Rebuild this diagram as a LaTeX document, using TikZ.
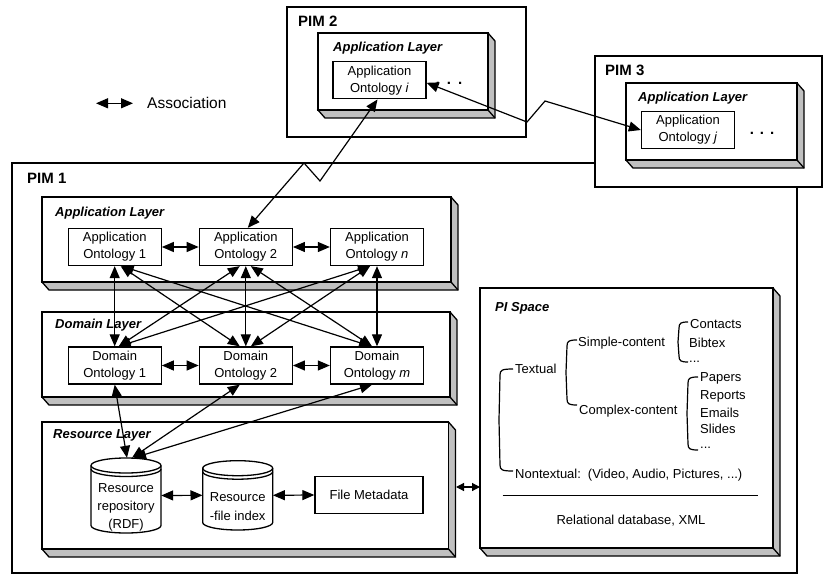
\documentclass[tikz,border=0pt]{standalone}
\usepackage{fontspec}
\setmainfont{Liberation Sans}
\usetikzlibrary{arrows.meta,calc}
\definecolor{sidegray}{RGB}{192,192,192}

\tikzset{
  boxline/.style={line width=1.3pt, draw=black, line join=miter},
  txt/.style={font=\fontsize{13}{17}\selectfont, inner sep=0pt},
  ptxt/.style={font=\fontsize{13}{17}\selectfont, inner sep=0pt, anchor=base west},
  onto/.style={boxline, fill=white, minimum width=93pt, minimum height=37pt, align=center, inner sep=1pt, font=\fontsize{13}{17}\selectfont},
  layerlbl/.style={font=\fontsize{13}{16}\selectfont\bfseries\itshape, anchor=base west, inner sep=0pt},
  pimlbl/.style={font=\fontsize{15}{18}\selectfont\bfseries, anchor=base west, inner sep=0pt},
  cylnode/.style={inner sep=0pt, draw=none},
  assoc/.style={line width=1.2pt, {Triangle[length=12pt,width=10pt]}-{Triangle[length=12pt,width=10pt]}},
  shortassoc/.style={line width=1.2pt, {Triangle[length=8pt,width=8pt]}-{Triangle[length=8pt,width=8pt]}},
  bracepath/.style={line width=1.2pt},
}

% 3D box: x0 y0 x1 y1 (front face)
\newcommand\tdbox[4]{%
  \draw[boxline, fill=sidegray] (#3,#2) -- ({#3+7},{#2+8}) -- ({#3+7},{#4+8}) -- ({#1+7},{#4+8}) -- (#1,#4) -- cycle;
  \draw[boxline] (#3,#4) -- ({#3+7},{#4+8});
  \draw[boxline, fill=white] (#1,#2) rectangle (#3,#4);
}
% cylinder: cx top bottom
\newcommand\dbcyl[3]{%
  \draw[boxline, fill=white] ({#1-35},{#2+7.5}) -- ({#1-35},{#3-7.5})
     arc[start angle=180,end angle=0,x radius=35,y radius=7.5]
     -- ({#1+35},{#2+7.5})
     arc[start angle=0,end angle=-180,x radius=35,y radius=7.5] -- cycle;
  \draw[boxline] ({#1-35},{#2+7.5}) arc[start angle=180,end angle=0,x radius=35,y radius=7.5];
  \draw[boxline] ({#1-35},{#2+11}) arc[start angle=180,end angle=0,x radius=35,y radius=7.5];
}
% brace: vertical x, tick end x, ytop, ybottom
\newcommand\pibrace[4]{%
  \draw[bracepath] (#2,#3) .. controls ({#1+2},#3) and (#1,{#3+1}) .. (#1,{#3+6})
     -- ({#1-1},{(#3+#4)/2}) -- (#1,{#4-6})
     .. controls (#1,{#4-1}) and ({#1+2},#4) .. (#2,#4);
}

\begin{document}
\begin{tikzpicture}[x=1pt,y=-1pt]
\useasboundingbox (0,0) rectangle (825,575);

% ---------- PIM 1 ----------
\draw[boxline, fill=white] (12,163) rectangle (797,573);
\node[pimlbl] (pim1) at (27,184) {PIM 1};

% ---------- PIM 3 ----------
\draw[boxline, fill=white] (595,56) rectangle (822,187);
\node[pimlbl] (pim3) at (605,76) {PIM 3};
\tdbox{626}{83}{797}{160}
\node[layerlbl] (al3) at (638,102) {Application Layer};
\node[onto] (aj) at (688,130) {Application\\Ontology \textit{j}};
\node[txt, font=\fontsize{15}{17}\selectfont\bfseries] (dotsj) at (762,133) {.\hspace{6pt}.\hspace{6pt}.};

% ---------- PIM 2 ----------
\draw[boxline, fill=white] (287,7) rectangle (526,137);
\node[pimlbl] (pim2) at (298,27) {PIM 2};
\tdbox{318}{33}{488}{110}
\node[layerlbl] (al2) at (333,52) {Application Layer};
\node[onto] (ai) at (379.5,80.3) {Application\\Ontology \textit{i}};
\node[txt, font=\fontsize{15}{17}\selectfont\bfseries] (dotsi) at (449,83) {.\hspace{7pt}.\hspace{7pt}.};

% ---------- Legend ----------
\coordinate (lg1) at (96,103.3);
\coordinate (lg2) at (133,103.3);
\draw[assoc] (lg1) -- (lg2);
\node[txt, anchor=west, font=\fontsize{15.5}{18}\selectfont] (legend) at (147,103.3) {Association};

% ---------- Layers of PIM 1 ----------
\tdbox{42}{197}{451}{282}
\node[layerlbl] (al1) at (55,216) {Application Layer};
\tdbox{42}{312}{450}{397}
\node[layerlbl] (dl) at (55,328.5) {Domain Layer};
\tdbox{42}{422}{448.5}{549}
\node[layerlbl] (rl) at (53,438.5) {Resource Layer};

\node[onto] (a1) at (114.7,247) {Application\\Ontology 1};
\node[onto] (a2) at (245.8,247) {Application\\Ontology 2};
\node[onto] (an) at (377,247) {Application\\Ontology \textit{n}};

\node[onto] (d1) at (114.7,365.5) {Domain\\Ontology 1};
\node[onto] (d2) at (245.8,365.5) {Domain\\Ontology 2};
\node[onto] (dm) at (377,365.5) {Domain\\Ontology \textit{m}};

% cylinders
\dbcyl{126}{458}{533}
\node[cylnode, minimum width=70pt, minimum height=75pt] (repo) at (126,495.5) {};
\node[txt, align=center, font=\fontsize{13}{18}\selectfont] (repotext) at (126,507) {Resource\\repository\\(RDF)};
\dbcyl{237.7}{460.7}{530}
\node[cylnode, minimum width=70pt, minimum height=69pt] (idx) at (237.7,495.3) {};
\node[txt, align=center, font=\fontsize{13}{19}\selectfont] (idxtext) at (237.7,506.5) {Resource\\-file index};
\node[onto, minimum width=108pt] (fm) at (369,495) {File Metadata};

% ---------- PI Space ----------
\tdbox{480}{288}{773}{548}
\node[layerlbl] (pil) at (495,311) {PI Space};
\node[ptxt] (contacts) at (690,328) {Contacts};
\node[ptxt] (bibtex) at (689,347) {Bibtex};
\node[ptxt] (dots1) at (689,362) {...};
\node[ptxt] (simple) at (578,346) {Simple-content};
\node[ptxt] (textual) at (515,373) {Textual};
\node[ptxt] (papers) at (700,381) {Papers};
\node[ptxt] (reports) at (700,399.5) {Reports};
\node[ptxt] (emails) at (700,417) {Emails};
\node[ptxt] (slides) at (700,433.5) {Slides};
\node[ptxt] (dots2) at (700,448) {...};
\node[ptxt] (complex) at (579,414) {Complex-content};
\node[ptxt] (nontext) at (515,478) {Nontextual: \,(Video, Audio, Pictures, ...)};
\draw[line width=1.2pt] (502.7,495.7) -- (757.7,495.7);
\node[txt, anchor=base] (reldb) at (631,524.5) {Relational database, XML};

\pibrace{500}{513}{369}{471}
\pibrace{567}{577}{340}{405}
\pibrace{679}{688}{322}{362}
\pibrace{688}{698}{377}{450}

% ---------- Connectors ----------
\draw[assoc] (a1) -- (a2);
\draw[assoc] (a2) -- (an);
\draw[assoc] (d1) -- (d2);
\draw[assoc] (d2) -- (dm);

\draw[assoc] (a1.south) -- (d1.north);
\draw[assoc] ([xshift=6pt]a1.south) -- ([xshift=-6pt]d2.north);
\draw[assoc] ([xshift=7pt]a1.south) -- ([xshift=-6pt]dm.north);
\draw[assoc] ([xshift=-6pt]a2.south) -- ([xshift=4pt]d1.north);
\draw[assoc] (a2.south) -- (d2.north);
\draw[assoc] ([xshift=5pt]a2.south) -- ([xshift=-5pt]dm.north);
\draw[assoc] ([xshift=-7pt]an.south) -- ([xshift=4pt]d1.north);
\draw[assoc] ([xshift=-7pt]an.south) -- ([xshift=5pt]d2.north);
\draw[assoc] (an.south) -- (dm.north);

\draw[assoc] (d1.south) -- ([xshift=1pt]repo.north);
\draw[assoc] ([xshift=-6pt]d2.south) -- ([xshift=6pt]repo.north);
\draw[assoc] ([xshift=-5pt]dm.south) -- ([xshift=8pt]repo.north);
\draw[assoc] (repo.east) -- (idx.west);
\draw[assoc] (idx.east) -- (fm.west);

\coordinate (rlside) at (456,487);
\coordinate (piw) at (480,487);
\draw[shortassoc] (rlside) -- (piw);

\coordinate (z1) at (304,163);
\coordinate (z2) at (320,181);
\draw[assoc] ([xshift=2pt]a2.north) -- (z1) -- (z2) -- ([xshift=-2pt]ai.south);

\coordinate (z3) at (527,122);
\coordinate (z4) at (545,101);
\draw[assoc] ([yshift=-2.5pt]ai.east) -- (z3) -- (z4) -- (aj.west);

\end{tikzpicture}
\end{document}
